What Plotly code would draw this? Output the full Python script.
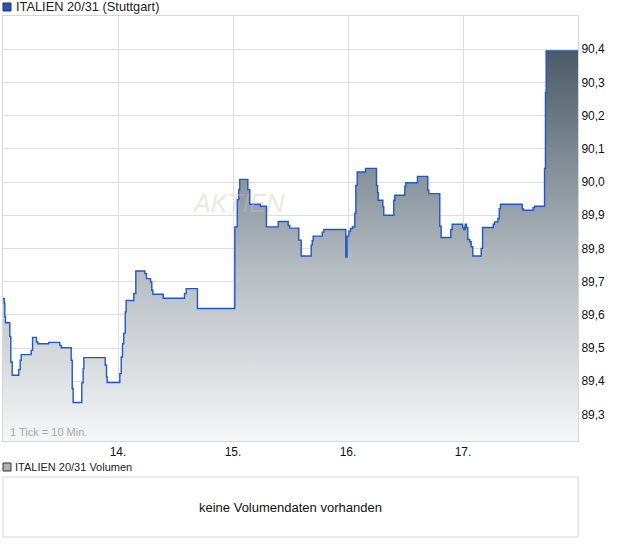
import plotly.graph_objects as go

# time in fractional days (day of month), price values (step series)
times = [13.000, 13.011, 13.016, 13.022, 13.059, 13.068, 13.080, 13.137, 13.150, 13.158,
         13.245, 13.257, 13.291, 13.303, 13.398, 13.494, 13.506, 13.593, 13.602, 13.610,
         13.685, 13.697, 13.703, 13.889, 13.900, 13.906, 14.016, 14.028, 14.039, 14.050,
         14.063, 14.071, 14.137, 14.155, 14.233, 14.248, 14.283, 14.294, 14.303, 14.393,
         14.578, 14.593, 14.691, 15.016, 15.037, 15.050, 15.059, 15.129, 15.146, 15.239,
         15.291, 15.393, 15.480, 15.494, 15.572, 15.593, 15.680, 15.689, 15.697, 15.776,
         15.790, 15.981, 15.991, 16.007, 16.022, 16.039, 16.059, 16.068, 16.080, 16.152,
         16.248, 16.257, 16.263, 16.303, 16.311, 16.398, 16.407, 16.494, 16.503, 16.604,
         16.694, 16.703, 16.798, 16.810, 16.894, 16.906, 16.996, 17.007, 17.019, 17.030,
         17.042, 17.059, 17.071, 17.085, 17.158, 17.170, 17.263, 17.274, 17.303, 17.315,
         17.326, 17.515, 17.523, 17.610, 17.622, 17.709, 17.717, 17.723, 18.000]
prices = [89.649, 89.634, 89.594, 89.576, 89.535, 89.458, 89.418, 89.435, 89.463, 89.480,
          89.493, 89.532, 89.518, 89.513, 89.517, 89.508, 89.501, 89.463, 89.378, 89.336,
          89.395, 89.438, 89.471, 89.448, 89.413, 89.396, 89.423, 89.473, 89.513, 89.545,
          89.609, 89.643, 89.664, 89.732, 89.724, 89.709, 89.699, 89.674, 89.662, 89.650,
          89.664, 89.679, 89.619, 89.865, 89.947, 89.977, 90.008, 89.977, 89.933, 89.927,
          89.865, 89.881, 89.869, 89.861, 89.825, 89.777, 89.810, 89.823, 89.837, 89.849,
          89.857, 89.774, 89.837, 89.852, 89.860, 89.865, 89.905, 89.990, 90.030, 90.041,
          89.990, 89.968, 89.945, 89.925, 89.900, 89.945, 89.960, 89.987, 89.998, 90.017,
          89.975, 89.965, 89.867, 89.833, 89.857, 89.873, 89.863, 89.857, 89.873, 89.863,
          89.827, 89.820, 89.805, 89.777, 89.800, 89.863, 89.873, 89.880, 89.890, 89.920,
          89.933, 89.920, 89.915, 89.923, 89.927, 90.041, 90.270, 90.395, 90.395]

x_tick_vals = [14, 15, 16, 17]
x_tick_text = ["14.", "15.", "16.", "17."]
y_tick_vals = [89.3, 89.4, 89.5, 89.6, 89.7, 89.8, 89.9, 90.0, 90.1, 90.2, 90.3, 90.4]

title_text = "ITALIEN 20/31 (Stuttgart)"
volume_title = "ITALIEN 20/31 Volumen"
volume_msg = "keine Volumendaten vorhanden"
tick_note = "1 Tick = 10 Min."

Y_MIN, Y_MAX = 89.22, 90.50

fig = go.Figure()
fig.add_trace(go.Scatter(
    x=times, y=prices, mode="lines", line=dict(shape="hv", color="#1f57c3", width=1.4),
    fill="tozeroy",
    fillgradient=dict(type="vertical", start=Y_MIN, stop=90.4,
                      colorscale=[[0, "#f5f6f7"], [0.45, "#b3bac0"], [1, "#4a5a67"]]),
    hoverinfo="skip", showlegend=False,
))

grid = "#dedede"
fig.update_layout(
    width=620, height=546,
    margin=dict(l=3, r=42, t=16, b=105),
    paper_bgcolor="white", plot_bgcolor="white",
    separators=",.",
    font=dict(family="Liberation Sans, Arial, sans-serif", size=12, color="#222222"),
    xaxis=dict(range=[13, 18], tickvals=x_tick_vals, ticktext=x_tick_text,
               showgrid=True, gridcolor=grid, gridwidth=1, zeroline=False,
               showline=True, linecolor="#d6d6d6", linewidth=1, mirror=True,
               ticks="", tickfont=dict(size=12, color="#111111")),
    yaxis=dict(range=[Y_MIN, Y_MAX], side="right", tickvals=y_tick_vals, tickformat=".1f",
               showgrid=True, gridcolor=grid, gridwidth=1, zeroline=False,
               showline=True, linecolor="#d6d6d6", linewidth=1, mirror=True,
               ticks="", tickfont=dict(size=12, color="#111111")),
)

# watermark
fig.add_annotation(text="<i>AKTIEN</i>", x=0.41, y=0.56, xref="paper", yref="paper",
                   showarrow=False, font=dict(size=25, color="rgba(205,195,180,0.40)",
                                              family="Liberation Sans, Arial"))

# tick note
fig.add_annotation(text=tick_note, x=0.008, y=0.002, xref="paper", yref="paper",
                   xanchor="left", yanchor="bottom", showarrow=False,
                   font=dict(size=11, color="#a8a8a8"))

# top legend
fig.add_shape(type="rect", xref="paper", yref="paper", x0=0.0, x1=0.0139,
              y0=(441 - 11) / 425, y1=(441 - 3) / 425,
              fillcolor="#1f57c3", line=dict(color="#333333", width=1))
fig.add_annotation(text=title_text, x=10.5 / 575, y=(441 - 7) / 425, xref="paper", yref="paper",
                   xanchor="left", yanchor="middle", showarrow=False,
                   font=dict(size=12.8, color="#222222"))

# volume panel
fig.add_shape(type="rect", xref="paper", yref="paper", x0=0.0, x1=0.0139,
              y0=(441 - 471) / 425, y1=(441 - 463) / 425,
              fillcolor="#b0b0b0", line=dict(color="#333333", width=1))
fig.add_annotation(text=volume_title, x=10 / 575, y=(441 - 467) / 425, xref="paper", yref="paper",
                   xanchor="left", yanchor="middle", showarrow=False,
                   font=dict(size=11, color="#222222"))
fig.add_shape(type="rect", xref="paper", yref="paper", x0=0.0, x1=1.0,
              y0=(441 - 537) / 425, y1=(441 - 477) / 425,
              fillcolor="white", line=dict(color="#d6d6d6", width=1))
fig.add_annotation(text=volume_msg, x=(290 - 3) / 575, y=(441 - 507) / 425, xref="paper", yref="paper",
                   xanchor="center", yanchor="middle", showarrow=False,
                   font=dict(size=13, color="#111111"))

fig.write_html("out.html", config={"displayModeBar": False},
               post_script="document.body.style.margin='0px';")
